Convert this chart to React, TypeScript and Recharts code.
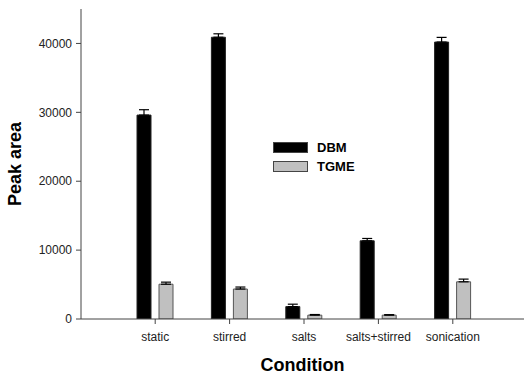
import {
  Bar,
  BarChart,
  ErrorBar,
  Label,
  Legend,
  XAxis,
  YAxis,
} from "recharts"

const conditions = ["static", "stirred", "salts", "salts+stirred", "sonication"]
const dbm = [29600, 40900, 1800, 11350, 40200]
const dbmErr = [780, 500, 350, 340, 680]
const tgme = [5050, 4350, 560, 560, 5400]
const tgmeErr = [300, 290, 90, 70, 390]
const yTicks = [0, 10000, 20000, 30000, 40000]

const data = conditions.map((c, i) => ({
  condition: c,
  DBM: dbm[i],
  dbmErr: [0, dbmErr[i]],
  TGME: tgme[i],
  tgmeErr: [0, tgmeErr[i]],
}))

const font = "'Liberation Sans', Arial, Helvetica, sans-serif"
const axisColor = "#444"

function LegendBox({ payload }: any) {
  return (
    <div style={{ fontFamily: font }}>
      {(payload || []).map((p: any) => (
        <div
          key={p.value}
          style={{ display: "flex", alignItems: "center", height: 19 }}
        >
          <div
            style={{
              width: 33,
              height: 9,
              flexShrink: 0,
              background: p.color,
              border: "1px solid #444",
              marginRight: 9,
            }}
          />
          <span style={{ fontSize: 13, fontWeight: "bold", color: "#000" }}>
            {p.value}
          </span>
        </div>
      ))}
    </div>
  )
}

export default function App() {
  return (
    <div
      style={{
        position: "absolute",
        left: 0,
        top: 0,
        width: 524,
        height: 376,
        overflow: "hidden",
        background: "#fff",
      }}
    >
      <BarChart
        width={530}
        height={376}
        data={data}
        margin={{ top: 9, right: 0, bottom: 0, left: 0 }}
        barSize={14}
        barGap={8}
      >
        <XAxis
          dataKey="condition"
          height={57}
          padding={{ left: 37, right: 40 }}
          stroke={axisColor}
          tickSize={5}
          tickMargin={8}
          tick={{ fill: "#222", fontSize: 12, fontFamily: font }}
          interval={0}
        >
          <Label
            value="Condition"
            position="insideBottom"
            offset={5}
            dx={-3}
            style={{ fontSize: 18, fontWeight: "bold", fill: "#000", fontFamily: font }}
          />
        </XAxis>
        <XAxis
          xAxisId="top"
          orientation="top"
          dataKey="condition"
          height={0}
          tick={false}
          tickLine={false}
          stroke={axisColor}
          strokeWidth={1.5}
        />
        <YAxis
          width={81}
          domain={[0, 45000]}
          ticks={yTicks}
          allowDataOverflow
          stroke={axisColor}
          tickSize={5}
          tickMargin={4}
          tick={{ fill: "#222", fontSize: 12, fontFamily: font }}
        >
          <Label
            value="Peak area"
            angle={-90}
            position="insideLeft"
            offset={15}
            style={{
              fontSize: 18,
              fontWeight: "bold",
              fill: "#000",
              fontFamily: font,
              textAnchor: "middle",
            }}
          />
        </YAxis>
        <Legend
          layout="vertical"
          align="center"
          verticalAlign="middle"
          wrapperStyle={{ left: 273, top: 138, width: 120 }}
          content={<LegendBox />}
        />
        <Bar
          dataKey="DBM"
          fill="#000"
          stroke="#222"
          strokeWidth={1}
          isAnimationActive={false}
        >
          <ErrorBar
            dataKey="dbmErr"
            direction="y"
            width={5}
            stroke="#000"
            strokeWidth={1.2}
            isAnimationActive={false}
          />
        </Bar>
        <Bar
          dataKey="TGME"
          fill="#c0c0c0"
          stroke="#555"
          strokeWidth={1}
          isAnimationActive={false}
        >
          <ErrorBar
            dataKey="tgmeErr"
            direction="y"
            width={5}
            stroke="#000"
            strokeWidth={1.2}
            isAnimationActive={false}
          />
        </Bar>
      </BarChart>
    </div>
  )
}
